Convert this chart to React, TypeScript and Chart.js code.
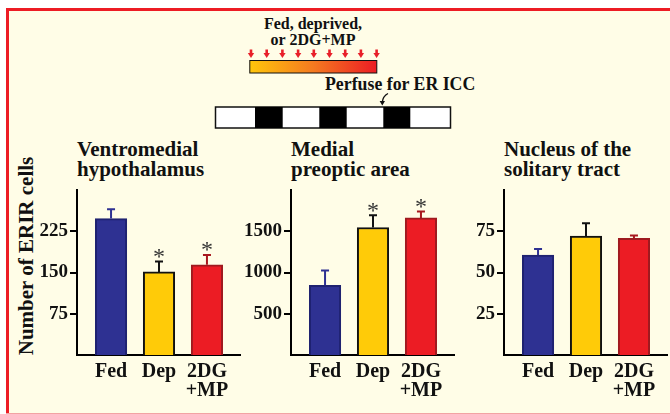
import React, { useEffect, useRef } from "react";
import Chart from "chart.js/auto";

// ---- data ----
const categories = ["Fed", "Dep", "2DG\n+MP"];

const vmhTitle = ["Ventromedial", "hypothalamus"];
const vmhValues = [248, 151, 164];
const vmhErrors = [17, 19, 18];
const vmhSignificant = [false, true, true];
const vmhMax = 300;
const vmhStep = 75;

const mpoaTitle = ["Medial", "preoptic area"];
const mpoaValues = [844, 1546, 1662];
const mpoaErrors = [181, 149, 78];
const mpoaSignificant = [false, true, true];
const mpoaMax = 2000;
const mpoaStep = 500;

const ntsTitle = ["Nucleus of the", "solitary tract"];
const ntsValues = [60.6, 72.1, 70.7];
const ntsErrors = [3.6, 7.7, 1.8];
const ntsSignificant = [false, false, false];
const ntsMax = 100;
const ntsStep = 25;

const yAxisTitle = "Number of ERIR cells";
const treatmentLabel = ["Fed, deprived,", "or 2DG+MP"];
const perfuseLabel = "Perfuse for ER ICC";

// ---- styles ----
const FONT = '"Liberation Serif", "Times New Roman", Times, serif';
const CREAM = "#FFFDE7";
const barFill = ["#2E3192", "#FFCB08", "#EC1C24"];
const barBorder = ["#1F2270", "#111111", "#9E1A1F"];
const errColor = ["#2E3192", "#111111", "#A8181E"];

const errorBarPlugin = {
  id: "errorBars",
  afterDatasetsDraw(chart: any, _args: any, opts: any) {
    const { ctx } = chart;
    const meta = chart.getDatasetMeta(0);
    const ys = chart.scales.y;
    const vals: number[] = opts.values;
    meta.data.forEach((bar: any, i: number) => {
      const v = vals[i];
      const top = ys.getPixelForValue(v);
      const et = ys.getPixelForValue(v + opts.errors[i]);
      ctx.save();
      ctx.strokeStyle = errColor[i];
      ctx.lineWidth = 2;
      ctx.beginPath();
      ctx.moveTo(bar.x, top);
      ctx.lineTo(bar.x, et);
      ctx.moveTo(bar.x - 4, et);
      ctx.lineTo(bar.x + 4, et);
      ctx.stroke();
      if (opts.significant[i]) {
        ctx.fillStyle = "#333";
        ctx.font = `24px ${FONT}`;
        ctx.textAlign = "center";
        ctx.textBaseline = "alphabetic";
        ctx.fillText("*", bar.x, et + 2.5);
      }
      ctx.restore();
    });
  },
};

function Panel(props: {
  left: number;
  values: number[];
  errors: number[];
  significant: boolean[];
  max: number;
  step: number;
  title: string[];
}) {
  const ref = useRef<HTMLCanvasElement | null>(null);
  const { left, values, errors, significant, max, step, title } = props;
  useEffect(() => {
    if (!ref.current) return;
    const chart = new Chart(ref.current, {
      type: "bar",
      data: {
        datasets: [
          {
            data: values.map((v, i) => ({ x: i, y: v })),
            backgroundColor: barFill,
            borderColor: barBorder,
            borderWidth: 2,
            barThickness: 31.5,
          } as any,
        ],
      },
      options: {
        animation: false,
        responsive: false,
        maintainAspectRatio: false,
        layout: { padding: { top: 20, right: 0, bottom: 0, left: 0 } },
        plugins: {
          legend: { display: false },
          tooltip: { enabled: false },
          title: { display: false },
          errorBars: { values, errors, significant },
        } as any,
        scales: {
          x: {
            type: "linear",
            offset: false,
            min: -0.71,
            max: 2.71,
            afterBuildTicks: (s: any) => {
              s.ticks = categories.map((_, i) => ({ value: i }));
            },
            afterFit: (s: any) => {
              s.height = 50;
            },
            grid: { display: false, drawTicks: false, offset: false },
            border: { display: true, color: "#000", width: 2 },
            ticks: {
              autoSkip: false,
              maxRotation: 0,
              minRotation: 0,
              padding: 7,
              color: "#111",
              font: { family: FONT, size: 20, weight: "bold", lineHeight: 0.95 },
              callback: (v: any) => {
                const c = categories[Math.round(Number(v))];
                return c ? c.split("\n") : "";
              },
            },
          },
          y: {
            min: 0,
            max,
            afterBuildTicks: (s: any) => {
              s.ticks = s.ticks.filter((t: any) => t.value > 0 && t.value < max);
            },
            afterFit: (s: any) => {
              s.width = 57;
            },
            ticks: {
              stepSize: step,
              padding: 2,
              color: "#111",
              font: { family: FONT, size: 19, weight: "bold" },
              callback: (v: any) => String(v),
            },
            grid: {
              drawOnChartArea: false,
              drawTicks: true,
              tickLength: 7,
              tickWidth: 2,
              tickColor: "#000",
              color: "#000",
              lineWidth: 2,
            },
            border: { display: true, color: "#000", width: 2 },
          },
        } as any,
      },
      plugins: [errorBarPlugin],
    } as any);
    return () => chart.destroy();
  }, []);
  return (
    <>
      <div
        style={{
          position: "absolute",
          left: left + 57,
          top: 140.2,
          font: `bold 21px/19.5px ${FONT}`,
          color: "#111",
          whiteSpace: "nowrap",
        }}
      >
        {title.map((t, i) => (
          <div key={i}>{t}</div>
        ))}
      </div>
      <canvas
        ref={ref}
        width={221}
        height={235}
        style={{ position: "absolute", left, top: 170, width: 221, height: 235 }}
      />
    </>
  );
}

const blackSegments = [
  [255, 282.7],
  [319.3, 346.7],
  [383.3, 410.3],
];
const arrowXs = [0, 1, 2, 3, 4, 5, 6, 7, 8].map((k) => 251 + k * 15.7);

export default function App() {
  return (
    <div
      style={{
        position: "absolute",
        left: 0,
        top: 0,
        width: 670,
        height: 414,
        background: "#fff",
        overflow: "hidden",
      }}
    >
      <div
        style={{
          position: "absolute",
          left: 6,
          top: 8,
          width: 670,
          height: 406,
          background: CREAM,
          borderLeft: "3px solid #ED1C24",
          borderTop: "3px solid #ED1C24",
          boxSizing: "border-box",
        }}
      />
      <div
        style={{
          position: "absolute",
          left: 6,
          top: 413,
          width: 670,
          height: 1,
          background: "#F2A3A3",
        }}
      />
      <svg
        width={670}
        height={140}
        style={{ position: "absolute", left: 0, top: 0 }}
      >
        <defs>
          <linearGradient id="grad" x1="0" x2="1" y1="0" y2="0">
            <stop offset="0" stopColor="#FFC60B" />
            <stop offset="0.5" stopColor="#F47A20" />
            <stop offset="1" stopColor="#EC1C24" />
          </linearGradient>
        </defs>
        {arrowXs.map((x, i) => (
          <g key={i} fill="#E8202A" stroke="none">
            <rect x={x - 1.3} y={49.5} width={2.6} height={3.5} />
            <polygon points={`${x - 3.2},53 ${x + 3.2},53 ${x},58`} />
          </g>
        ))}
        <rect
          x={249.8}
          y={60.5}
          width={127}
          height={12.5}
          fill="url(#grad)"
          stroke="#111"
          strokeWidth={1}
        />
        <path d="M388,93.5 Q383,96 382.3,102" fill="none" stroke="#111" strokeWidth={1.3} />
        <polygon points="379.6,101 385,101 382.3,105.5" fill="#111" />
        <rect x={215.5} y={107} width={235} height={21} fill="#fff" stroke="#111" strokeWidth={1.5} />
        {blackSegments.map(([a, b], i) => (
          <rect key={i} x={a} y={107} width={b - a} height={21} fill="#000" />
        ))}
      </svg>
      <div
        style={{
          position: "absolute",
          left: 213,
          width: 200,
          top: 16,
          textAlign: "center",
          font: `bold 16px/15.7px ${FONT}`,
          color: "#111",
        }}
      >
        {treatmentLabel.map((t, i) => (
          <div key={i}>{t}</div>
        ))}
      </div>
      <div
        style={{
          position: "absolute",
          left: 325,
          top: 76,
          font: `bold 17.8px/17.8px ${FONT}`,
          color: "#111",
          whiteSpace: "nowrap",
        }}
      >
        {perfuseLabel}
      </div>
      <div
        style={{
          position: "absolute",
          left: 25.5 - 120,
          top: 256 - 11,
          width: 240,
          height: 22,
          textAlign: "center",
          font: `bold 21px/22px ${FONT}`,
          color: "#111",
          whiteSpace: "nowrap",
          transform: "rotate(-90deg)",
        }}
      >
        {yAxisTitle}
      </div>
      <Panel
        left={20}
        values={vmhValues}
        errors={vmhErrors}
        significant={vmhSignificant}
        max={vmhMax}
        step={vmhStep}
        title={vmhTitle}
      />
      <Panel
        left={234}
        values={mpoaValues}
        errors={mpoaErrors}
        significant={mpoaSignificant}
        max={mpoaMax}
        step={mpoaStep}
        title={mpoaTitle}
      />
      <Panel
        left={447}
        values={ntsValues}
        errors={ntsErrors}
        significant={ntsSignificant}
        max={ntsMax}
        step={ntsStep}
        title={ntsTitle}
      />
    </div>
  );
}
